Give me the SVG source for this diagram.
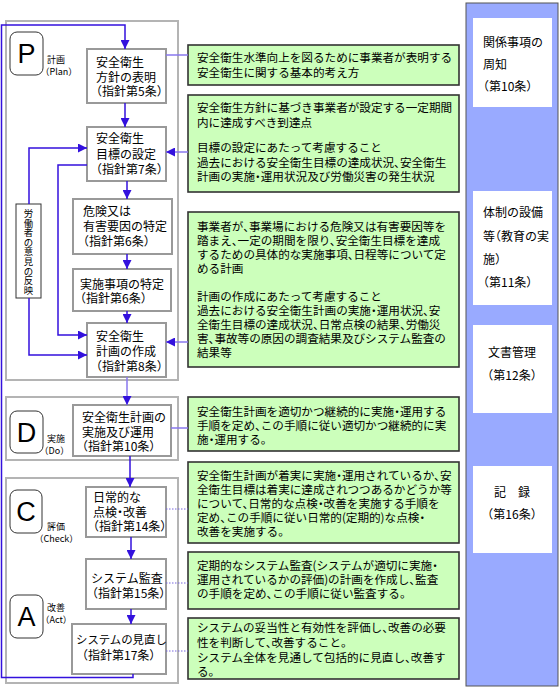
<svg xmlns="http://www.w3.org/2000/svg" width="559" height="689" viewBox="0 0 559 689">
<style>
.phase{fill:#fff;stroke:#b4b4b4;stroke-width:2}
.node{fill:#fff;stroke:#999;stroke-width:2}
.letter{fill:#fff;stroke:#333;stroke-width:1}
.green{fill:#ccffbb;stroke:#333;stroke-width:1.6}
.wbox{fill:#fff;stroke:none}
.t{font-family:"Noto Sans CJK JP","Liberation Sans",sans-serif;fill:#000;font-feature-settings:"halt" 1}
.nt{font-size:12px}
.gt{font-size:11.6px}
.st{font-size:9px}
.pt{font-size:12px}
.big{font-family:"Liberation Sans",Arial,sans-serif;font-size:27px;fill:#000;text-anchor:middle}
.blue{fill:none;stroke:#3311dd;stroke-width:1.5}
.lp{fill:none;stroke:#8877ee;stroke-width:1.5}
.dot{fill:none;stroke:#7766dd;stroke-width:1;stroke-dasharray:1.5 1.5}
</style>
<defs>
<marker id="ah" viewBox="0 0 10 10" refX="10" refY="5" markerWidth="9" markerHeight="9" markerUnits="userSpaceOnUse" orient="auto">
<path d="M0,0 L10,5 L0,10 z" fill="#3311dd"/>
</marker>
</defs>

<g id="panel">
<rect x="466" y="3" width="92" height="683" fill="#99aaff" stroke="#555" stroke-width="1"/>
<rect class="wbox" x="473" y="18" width="79" height="89"/>
<text class="t pt" x="483" y="47">関係事項の</text>
<text class="t pt" x="483" y="69">周知</text>
<text class="t pt" x="483" y="91">（第10条）</text>
<rect class="wbox" x="473" y="191" width="79" height="114"/>
<text class="t pt" x="483" y="217">体制の設備</text>
<text class="t pt" x="483" y="241">等（教育の実</text>
<text class="t pt" x="483" y="264">施）</text>
<text class="t pt" x="483" y="287">（第11条）</text>
<rect class="wbox" x="473" y="325" width="79" height="88"/>
<text class="t pt" x="512" y="357" text-anchor="middle">文書管理</text>
<text class="t pt" x="512" y="380" text-anchor="middle">（第12条）</text>
<rect class="wbox" x="473" y="466" width="79" height="87"/>
<text class="t pt" x="512" y="497" text-anchor="middle">記　録</text>
<text class="t pt" x="512" y="519" text-anchor="middle">（第16条）</text>
</g>

<g id="phase-plan">
<rect class="phase" x="6" y="21" width="172" height="359"/>
<rect class="letter" x="10" y="32" width="33" height="43" rx="7"/>
<text class="big" x="26.5" y="63">P</text>
<text class="t st" x="47" y="63">計画</text>
<text class="t st" x="45" y="75">（Plan）</text>
</g>
<g id="phase-do">
<rect class="phase" x="6" y="397" width="172" height="63"/>
<rect class="letter" x="10" y="411" width="33" height="42" rx="7"/>
<text class="big" x="26.5" y="441.5">D</text>
<text class="t st" x="47" y="442">実施</text>
<text class="t st" x="44" y="454">（Do）</text>
</g>
<g id="phase-check-act">
<rect class="phase" x="6" y="478" width="172" height="205"/>
<rect class="letter" x="10" y="490" width="32" height="43" rx="7"/>
<text class="big" x="26" y="521">C</text>
<text class="t st" x="47" y="530">評価</text>
<text class="t st" x="39" y="542">（Check）</text>
<rect class="letter" x="10" y="595" width="33" height="43" rx="7"/>
<text class="big" x="26.5" y="626">A</text>
<text class="t st" x="47" y="611">改善</text>
<text class="t st" x="45" y="623">（Act）</text>
</g>

<g id="worker">
<rect x="16" y="204" width="25" height="94" fill="#fff" stroke="#333" stroke-width="1"/>
<text class="t" font-size="9.4" text-anchor="middle"><tspan x="28.5" y="217">労</tspan><tspan x="28.5" y="226.6">働</tspan><tspan x="28.5" y="236.2">者</tspan><tspan x="28.5" y="245.8">の</tspan><tspan x="28.5" y="255.4">意</tspan><tspan x="28.5" y="265">見</tspan><tspan x="28.5" y="274.6">の</tspan><tspan x="28.5" y="284.2">反</tspan><tspan x="28.5" y="293.8">映</tspan></text>
</g>

<g id="n1">
<rect class="node" x="87" y="49" width="79" height="54"/>
<text class="t nt" x="96" y="67">安全衛生</text>
<text class="t nt" x="96" y="81.5">方針の表明</text>
<text class="t nt" x="96" y="96">（指針第5条）</text>
</g>
<g id="n2">
<rect class="node" x="87" y="127" width="79" height="54"/>
<text class="t nt" x="96" y="143">安全衛生</text>
<text class="t nt" x="96" y="158.5">目標の設定</text>
<text class="t nt" x="96" y="174">（指針第7条）</text>
</g>
<g id="n3">
<rect class="node" x="73" y="199" width="99" height="55"/>
<text class="t nt" x="83" y="216">危険又は</text>
<text class="t nt" x="83" y="231">有害要因の特定</text>
<text class="t nt" x="83" y="245.5">（指針第6条）</text>
</g>
<g id="n4">
<rect class="node" x="73" y="269" width="98" height="42"/>
<text class="t nt" x="80" y="288.5">実施事項の特定</text>
<text class="t nt" x="80" y="303">（指針第6条）</text>
</g>
<g id="n5">
<rect class="node" x="87" y="323" width="79" height="54"/>
<text class="t nt" x="96" y="340.5">安全衛生</text>
<text class="t nt" x="96" y="356">計画の作成</text>
<text class="t nt" x="96" y="370.5">（指針第8条）</text>
</g>
<g id="n6">
<rect class="node" x="73" y="405" width="98" height="51"/>
<text class="t nt" x="82" y="421.5">安全衛生計画の</text>
<text class="t nt" x="82" y="436.5">実施及び運用</text>
<text class="t nt" x="82" y="450.5">（指針第10条）</text>
</g>
<g id="n7">
<rect class="node" x="86" y="487" width="80" height="50"/>
<text class="t nt" x="93" y="501.5">日常的な</text>
<text class="t nt" x="93" y="517">点検・改善</text>
<text class="t nt" x="93" y="531">（指針第14条）</text>
</g>
<g id="n8">
<rect class="node" x="86" y="559" width="80" height="50"/>
<text class="t nt" x="91" y="582.5">システム監査</text>
<text class="t nt" x="92" y="597.5">（指針第15条）</text>
</g>
<g id="n9">
<rect class="node" x="72" y="624" width="94" height="50"/>
<text class="t" font-size="11.4" x="76" y="643.5">システムの見直し</text>
<text class="t nt" x="82" y="659.5">（指針第17条）</text>
</g>

<g id="g1">
<rect class="green" x="188" y="45" width="271" height="40"/>
<text class="t gt" x="197" y="62">安全衛生水準向上を図るために事業者が表明する</text>
<text class="t gt" x="197" y="76.5">安全衛生に関する基本的考え方</text>
</g>
<g id="g2">
<rect class="green" x="188" y="95" width="271" height="97"/>
<text class="t gt" x="197" y="112">安全衛生方針に基づき事業者が設定する一定期間</text>
<text class="t gt" x="197" y="126.5">内に達成すべき到達点</text>
<text class="t gt" x="197" y="152">目標の設定にあたって考慮すること</text>
<text class="t gt" x="197" y="166.5">過去における安全衛生目標の達成状況、安全衛生</text>
<text class="t gt" x="197" y="181">計画の実施・運用状況及び労働災害の発生状況</text>
</g>
<g id="g3">
<rect class="green" x="188" y="212" width="271" height="155"/>
<text class="t gt" x="197" y="231">事業者が、事業場における危険又は有害要因等を</text>
<text class="t gt" x="197" y="245">踏まえ、一定の期間を限り、安全衛生目標を達成</text>
<text class="t gt" x="197" y="259">するための具体的な実施事項、日程等について定</text>
<text class="t gt" x="197" y="273">める計画</text>
<text class="t gt" x="197" y="301">計画の作成にあたって考慮すること</text>
<text class="t gt" x="197" y="315">過去における安全衛生計画の実施・運用状況、安</text>
<text class="t gt" x="197" y="329">全衛生目標の達成状況、日常点検の結果、労働災</text>
<text class="t gt" x="197" y="343">害、事故等の原因の調査結果及びシステム監査の</text>
<text class="t gt" x="197" y="357">結果等</text>
</g>
<g id="g4">
<rect class="green" x="188" y="397" width="271" height="54"/>
<text class="t gt" x="197" y="416">安全衛生計画を適切かつ継続的に実施・運用する</text>
<text class="t gt" x="197" y="430">手順を定め、この手順に従い適切かつ継続的に実</text>
<text class="t gt" x="197" y="444">施・運用する。</text>
</g>
<g id="g5">
<rect class="green" x="188" y="462" width="271" height="81"/>
<text class="t gt" x="197" y="480">安全衛生計画が着実に実施・運用されているか、安</text>
<text class="t gt" x="197" y="494">全衛生目標は着実に達成されつつあるかどうか等</text>
<text class="t gt" x="197" y="508">について、日常的な点検・改善を実施する手順を</text>
<text class="t gt" x="197" y="522">定め、この手順に従い日常的(定期的)な点検・</text>
<text class="t gt" x="197" y="536">改善を実施する。</text>
</g>
<g id="g6">
<rect class="green" x="188" y="552" width="271" height="57"/>
<text class="t gt" x="197" y="570">定期的なシステム監査(システムが適切に実施・</text>
<text class="t gt" x="197" y="584">運用されているかの評価)の計画を作成し、監査</text>
<text class="t gt" x="197" y="598">の手順を定め、この手順に従い監査する。</text>
</g>
<g id="g7">
<rect class="green" x="188" y="618" width="271" height="61"/>
<text class="t gt" x="197" y="632">システムの妥当性と有効性を評価し、改善の必要</text>
<text class="t gt" x="197" y="647">性を判断して、改善すること。</text>
<text class="t gt" x="197" y="662">システム全体を見通して包括的に見直し、改善す</text>
<text class="t gt" x="197" y="676">る。</text>
</g>

<g id="connectors">
<path class="blue" d="M133,674 V677.5 H1.5 V25 H125 V49" marker-end="url(#ah)"/>
<path class="blue" d="M125,103 V127" marker-end="url(#ah)"/>
<path class="blue" d="M127,181 V199" marker-end="url(#ah)"/>
<path class="blue" d="M127,254 V269" marker-end="url(#ah)"/>
<path class="blue" d="M127,311 V323" marker-end="url(#ah)"/>
<path class="lp" d="M127,377 V405" marker-end="url(#ah)"/>
<path class="blue" d="M130,456 V487" marker-end="url(#ah)"/>
<path class="blue" d="M131,537 V559" marker-end="url(#ah)"/>
<path class="blue" d="M131,609 V624" marker-end="url(#ah)"/>
<path class="blue" d="M29,204 V148 H87" marker-end="url(#ah)"/>
<path class="blue" d="M29,298 V355 H87" marker-end="url(#ah)"/>
<path class="blue" d="M87,165 H58 V335 H87" marker-end="url(#ah)"/>
<path class="lp" d="M166,55 H188"/>
<path class="lp" d="M188,152 H166" marker-end="url(#ah)"/>
<path class="lp" d="M188,342 H166" marker-end="url(#ah)"/>
<path class="lp" d="M171,428 H188"/>
<path class="dot" d="M166,509 H188"/>
<path class="dot" d="M166,583 H188"/>
<path class="dot" d="M166,651 H188"/>
</g>
</svg>
